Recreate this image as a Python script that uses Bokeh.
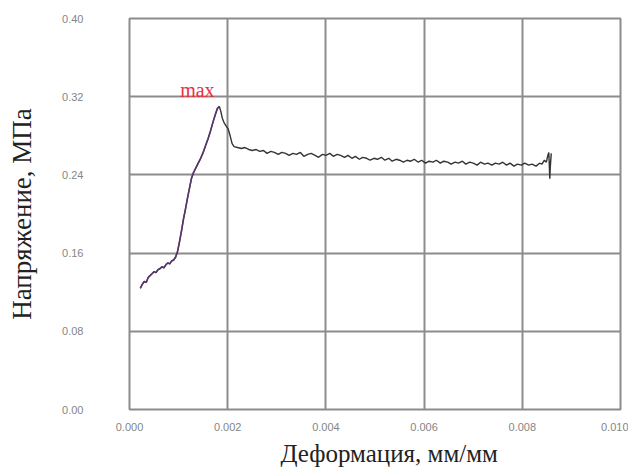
from bokeh.plotting import figure
from bokeh.models import Label, FixedTicker, Title
from bokeh.embed import file_html
from bokeh.resources import INLINE

# ---- data ----
strain = [
    0.00022, 0.00026, 0.00030, 0.00034, 0.00038, 0.00042, 0.00046, 0.00050, 0.00054, 0.00058,
    0.00062, 0.00066, 0.00070, 0.00074, 0.00078, 0.00082, 0.00086, 0.00090, 0.00094, 0.00098,
    0.00102, 0.00106, 0.00110, 0.00114, 0.00118, 0.00122, 0.00126, 0.00130, 0.00135, 0.00140,
    0.00145, 0.00150, 0.00155, 0.00160, 0.00165, 0.00170, 0.00175, 0.00179, 0.00183,
    0.00186, 0.00189, 0.00193, 0.00197, 0.00201, 0.00205, 0.00209, 0.00213,
    0.00220, 0.00228, 0.00235, 0.00243, 0.00250, 0.00258, 0.00265, 0.00273, 0.00280, 0.00288,
    0.00295, 0.00303, 0.00310, 0.00318, 0.00325, 0.00333, 0.00340, 0.00348, 0.00355, 0.00363,
    0.00370, 0.00378, 0.00385, 0.00393, 0.00400, 0.00408, 0.00415, 0.00423, 0.00430, 0.00438,
    0.00445, 0.00453, 0.00460, 0.00468, 0.00475, 0.00483, 0.00490, 0.00498, 0.00505, 0.00513,
    0.00520, 0.00528, 0.00535, 0.00543, 0.00550, 0.00558, 0.00565, 0.00573, 0.00580, 0.00588,
    0.00595, 0.00603, 0.00610, 0.00618, 0.00625, 0.00633, 0.00640, 0.00648, 0.00655, 0.00663,
    0.00670, 0.00678, 0.00685, 0.00693, 0.00700, 0.00708, 0.00715, 0.00723, 0.00730, 0.00738,
    0.00745, 0.00753, 0.00760, 0.00768, 0.00775, 0.00783, 0.00790, 0.00798, 0.00805, 0.00813,
    0.00820, 0.00828, 0.00835, 0.00840, 0.00845, 0.00849, 0.00852, 0.00854, 0.00855, 0.00856,
    0.00857, 0.00859,
]
stress = [
    0.124, 0.128, 0.131, 0.130, 0.135, 0.137, 0.139, 0.141, 0.140, 0.143,
    0.144, 0.146, 0.145, 0.148, 0.150, 0.149, 0.152, 0.153, 0.156, 0.162,
    0.172, 0.183, 0.195, 0.205, 0.216, 0.226, 0.236, 0.242, 0.247, 0.252,
    0.257, 0.263, 0.270, 0.277, 0.285, 0.294, 0.302, 0.308, 0.310,
    0.305, 0.298, 0.293, 0.290, 0.287, 0.280, 0.272, 0.269,
    0.268, 0.267, 0.268, 0.266, 0.265, 0.266, 0.264, 0.265, 0.262, 0.264,
    0.263, 0.261, 0.263, 0.262, 0.260, 0.262, 0.261, 0.263, 0.259, 0.261,
    0.262, 0.260, 0.258, 0.261, 0.260, 0.262, 0.259, 0.261, 0.260, 0.258,
    0.260, 0.257, 0.259, 0.256, 0.258, 0.257, 0.255, 0.257, 0.256, 0.258,
    0.255, 0.257, 0.254, 0.256, 0.255, 0.253, 0.255, 0.254, 0.256, 0.253,
    0.255, 0.252, 0.254, 0.253, 0.255, 0.252, 0.254, 0.253, 0.251, 0.253,
    0.252, 0.254, 0.251, 0.253, 0.252, 0.250, 0.253, 0.251, 0.252, 0.250,
    0.252, 0.251, 0.253, 0.250, 0.252, 0.249, 0.251, 0.250, 0.252, 0.250,
    0.251, 0.249, 0.252, 0.251, 0.255, 0.253, 0.260, 0.263, 0.250, 0.236,
    0.248, 0.262,
]
peak_index = 38  # the "max" point

x_ticks = [0.000, 0.002, 0.004, 0.006, 0.008, 0.010]
x_tick_labels = ["0.000", "0.002", "0.004", "0.006", "0.008", "0.010"]
y_ticks = [0.00, 0.08, 0.16, 0.24, 0.32, 0.40]
y_tick_labels = ["0.00", "0.08", "0.16", "0.24", "0.32", "0.40"]

x_title = "Деформация, мм/мм"
y_title = "Напряжение, МПа"
max_text = "max"

# ---- figure ----
p = figure(width=628, height=472, output_backend="svg", toolbar_location=None,
           x_range=(0.0, 0.010), y_range=(0.0, 0.40),
           min_border_left=129, min_border_right=8, min_border_top=18, min_border_bottom=63)
p.background_fill_color = "white"
p.border_fill_color = "white"
p.outline_line_color = "#8c8c8c"
p.outline_line_width = 2

for ax, ticks, labels in ((p.xaxis[0], x_ticks, x_tick_labels), (p.yaxis[0], y_ticks, y_tick_labels)):
    ax.ticker = FixedTicker(ticks=ticks)
    ax.major_label_overrides = {t: l for t, l in zip(ticks, labels)}
    ax.axis_line_color = None
    ax.major_tick_line_color = None
    ax.minor_tick_line_color = None
    ax.major_label_text_font = "Liberation Sans"
    ax.major_label_text_font_size = "11px"
    ax.major_label_text_color = "#858585"
    ax.axis_label_text_font = "Liberation Serif"
    ax.axis_label_text_font_style = "normal"
    ax.axis_label_text_color = "#222222"

p.yaxis[0].axis_label = y_title
p.yaxis[0].axis_label_text_font_size = "27px"
p.xaxis[0].major_label_standoff = 7
p.yaxis[0].major_label_standoff = 40
p.yaxis[0].axis_label_standoff = 22

p.add_layout(Title(text=x_title, align="left", offset=151, standoff=9,
                   text_font="Liberation Serif", text_font_style="normal",
                   text_font_size="25px", text_color="#222222"), "below")

p.xgrid.grid_line_color = "#8c8c8c"
p.ygrid.grid_line_color = "#8c8c8c"
p.xgrid.grid_line_width = 2
p.ygrid.grid_line_width = 2

# full curve
p.line(strain, stress, line_color="#333333", line_width=1.4)
# rising part (coloured)
p.line(strain[:peak_index + 1], stress[:peak_index + 1], line_color="#5b3470", line_width=1.6, line_alpha=0.9)

p.add_layout(Label(x=strain[peak_index], y=stress[peak_index], text=max_text,
                   text_font="Liberation Serif", text_font_size="20px", text_color="#e8303a",
                   text_align="center", x_offset=-22, y_offset=5))

open("out.html", "w").write(file_html(p, INLINE))
